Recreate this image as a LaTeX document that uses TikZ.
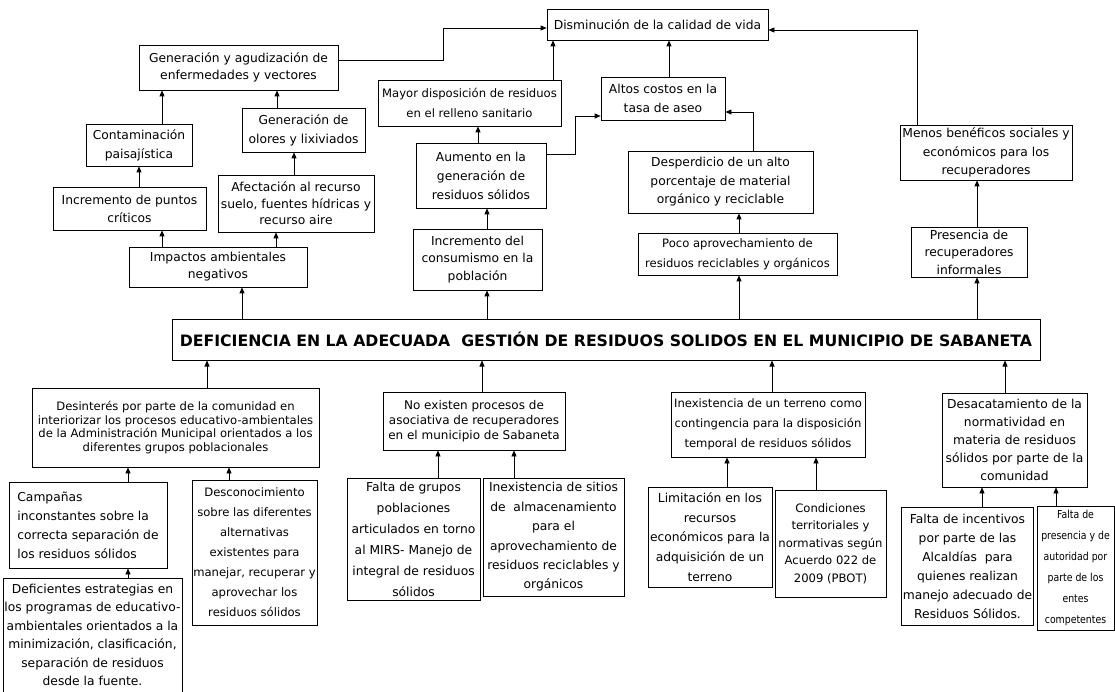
\documentclass[tikz,border=0pt]{standalone}
\usepackage{fontspec}
\setmainfont{DejaVu Sans}
\newfontfamily\narrowfont[FakeStretch=0.85]{DejaVu Sans}
\usetikzlibrary{arrows.meta}

\tikzset{
  box/.style={draw, line width=0.7pt, align=center, inner sep=1pt, font=\fontsize{12.3}{19}\selectfont},
  lsp/.style={font=\fontsize{12.3}{#1}\selectfont},
  tight/.style={font=\fontsize{11.6}{#1}\selectfont},
  link/.style={line width=0.7pt, -{Triangle[length=6pt,width=5pt]}}
}

\begin{document}
\begin{tikzpicture}[x=1pt,y=-1pt]
  \useasboundingbox (0,0) rectangle (1115,692);
  % effects
  \node[box, minimum width=221pt, minimum height=31pt] (vida) at (657.5,24.5) {Disminución de la calidad de vida};
  \node[box, lsp=17, minimum width=199pt, minimum height=45pt] (enferm) at (238.5,67.5) {Generación y agudización de\\enfermedades y vectores};
  \node[box, minimum width=106pt, minimum height=42pt] (paisaj) at (139,145) {Contaminación\\paisajística};
  \node[box, minimum width=123pt, minimum height=44pt] (olores) at (303.5,130) {Generación de\\olores y lixiviados};
  \node[box, lsp=18, minimum width=153pt, minimum height=43pt] (puntos) at (129.5,208.5) {Incremento de puntos\\críticos};
  \node[box, lsp=16.5, minimum width=156pt, minimum height=57pt] (afect) at (296,203.5) {Afectación al recurso\\suelo, fuentes hídricas y\\recurso aire};
  \node[box, lsp=17, minimum width=178pt, minimum height=40pt] (impact) at (218,267) {Impactos ambientales\\negativos};
  \node[box, tight=20, minimum width=183pt, minimum height=46pt] (relleno) at (469.5,103) {Mayor disposición de residuos\\en el relleno sanitario};
  \node[box, minimum width=124pt, minimum height=43pt] (costos) at (663,98.5) {Altos costos en la\\tasa de aseo};
  \node[box, minimum width=130pt, minimum height=65pt] (aumento) at (481,175.5) {Aumento en la\\generación de\\residuos sólidos};
  \node[box, lsp=17.5, minimum width=129pt, minimum height=61pt] (consumo) at (477.5,259.5) {Incremento del\\consumismo en la\\población};
  \node[box, lsp=18.5, minimum width=185pt, minimum height=62pt] (desperd) at (720.5,182) {Desperdicio de un alto\\porcentaje de material\\orgánico y reciclable};
  \node[box, tight=20, minimum width=199pt, minimum height=42pt] (aprovech) at (737.5,254) {Poco aprovechamiento de\\residuos reciclables y orgánicos};
  \node[box, lsp=18.5, minimum width=172pt, minimum height=55pt] (benef) at (986,152.5) {Menos benéficos sociales y\\económicos para los\\recuperadores};
  \node[box, lsp=17.5, minimum width=116pt, minimum height=50pt] (recup) at (969,252) {Presencia de\\recuperadores\\informales};
  % central problem
  \node[box, line width=1pt, font=\fontsize{15.7}{18}\bfseries, minimum width=868pt, minimum height=41pt] (main) at (606,339.5) {DEFICIENCIA EN LA ADECUADA\ \ GESTIÓN DE RESIDUOS SOLIDOS EN EL MUNICIPIO DE SABANETA};
  % causes
  \node[box, tight=13.7, minimum width=287pt, minimum height=79pt] (desint) at (175.5,427.5) {Desinterés por parte de la comunidad en\\interiorizar los procesos educativo-ambientales\\de la Administración Municipal orientados a los\\diferentes grupos poblacionales};
  \node[box, align=left, minimum width=158pt, minimum height=86pt] (campan) at (88,525) {Campañas\\inconstantes sobre la\\correcta separación de\\los residuos sólidos};
  \node[box, tight=20, minimum width=125pt, minimum height=145pt] (desconoc) at (254.5,552.5) {Desconocimiento\\sobre las diferentes\\alternativas\\existentes para\\manejar, recuperar y\\aprovechar los\\residuos sólidos};
  \node[box, lsp=18.5, minimum width=179pt, minimum height=114pt] (estrat) at (92.5,635) {Deficientes estrategias en\\los programas de educativo-\\ambientales orientados a la\\minimización, clasificación,\\separación de residuos\\desde la fuente.};
  \node[box, font=\fontsize{12}{15}\selectfont, minimum width=182pt, minimum height=58pt] (noexist) at (474,421) {No existen procesos de\\asociativa de recuperadores\\en el municipio de Sabaneta};
  \node[box, lsp=21, minimum width=133pt, minimum height=122pt] (grupos) at (413.5,539) {Falta de grupos\\poblaciones\\articulados en torno\\al MIRS- Manejo de\\integral de residuos\\sólidos};
  \node[box, lsp=19.4, minimum width=141pt, minimum height=118pt] (sitios) at (553.5,537) {Inexistencia de sitios\\de\ \ almacenamiento\\para el\\aprovechamiento de\\residuos reciclables y\\orgánicos};
  \node[box, tight=20, minimum width=194pt, minimum height=65pt] (terreno) at (768,424.5) {Inexistencia de un terreno como\\contingencia para la disposición\\temporal de residuos sólidos};
  \node[box, lsp=19.6, minimum width=124pt, minimum height=100pt] (limit) at (710,537) {Limitación en los\\recursos\\económicos para la\\adquisición de un\\terreno};
  \node[box, tight=17.5, minimum width=111pt, minimum height=107pt] (condic) at (830.5,543.5) {Condiciones\\territoriales y\\normativas según\\Acuerdo 022 de\\2009 (PBOT)};
  \node[box, lsp=18, minimum width=145pt, minimum height=94pt] (desacat) at (1014.5,440) {Desacatamiento de la\\normatividad en\\materia de residuos\\sólidos por parte de la\\comunidad};
  \node[box, minimum width=131pt, minimum height=118pt] (incent) at (967.5,566) {Falta de incentivos\\por parte de las\\Alcaldías\ \ para\\quienes realizan\\manejo adecuado de\\Residuos Sólidos.};
  \node[box, font=\narrowfont\fontsize{11}{21}\selectfont, inner sep=0.5pt, minimum width=77pt, minimum height=124pt] (autor) at (1075.5,568) {Falta de\\presencia y de\\autoridad por\\parte de los\\entes\\competentes};

  % straight links
  \foreach \a/\b/\x in {main/impact/242, impact/puntos/162, impact/afect/276, puntos/paisaj/139,
      afect/olores/294, paisaj/enferm/162, olores/enferm/277, main/consumo/487, consumo/aumento/487,
      aumento/relleno/478, relleno/vida/553, costos/vida/669, main/aprovech/739, aprovech/desperd/739,
      main/recup/977, recup/benef/977, desint/main/207, noexist/main/482, terreno/main/772,
      desacat/main/1005, campan/desint/128, desconoc/desint/229, estrat/campan/128, grupos/noexist/438,
      sitios/noexist/514, limit/terreno/727, condic/terreno/816, incent/desacat/982, autor/desacat/1056}
    \draw[link] (\a.north -| \x,0) -- (\b.south -| \x,0);

  % elbow links
  \draw[link] (enferm.east |- 0,60) -- (443,60) |- (vida.west |- 0,28);
  \draw[link] (aumento.east |- 0,154) -- (575,154) |- (costos.west |- 0,116);
  \draw[link] (desperd.north -| 753,0) |- (costos.east |- 0,112);
  \draw[link] (benef.north -| 917,0) |- (vida.east |- 0,30);
\end{tikzpicture}
\end{document}
